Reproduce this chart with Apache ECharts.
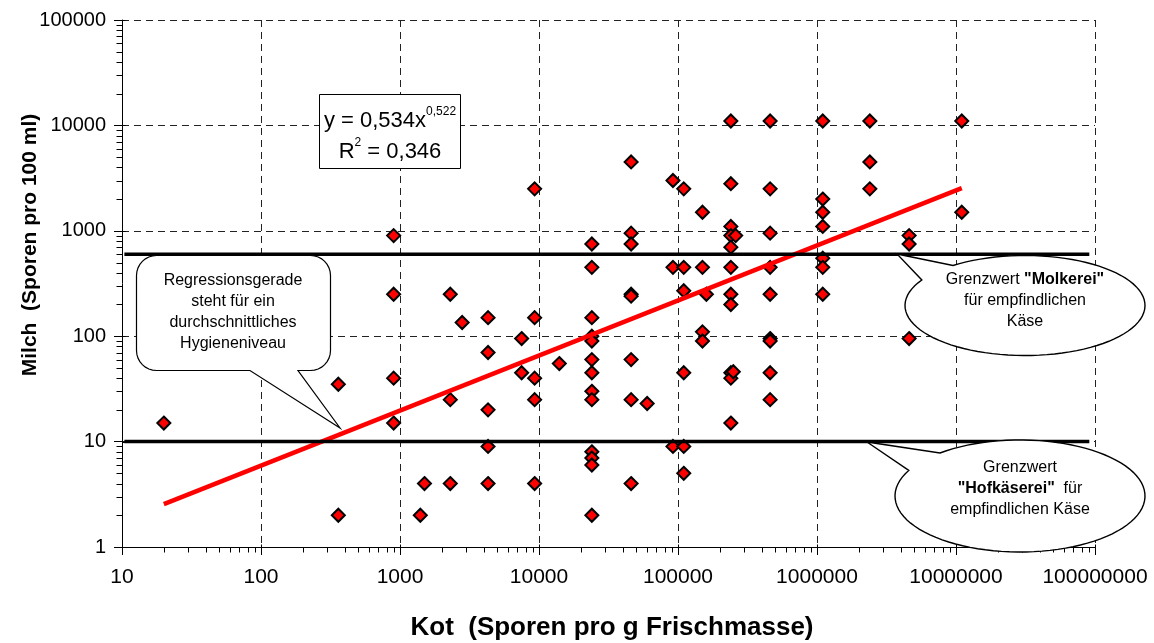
<!DOCTYPE html>
<html><head><meta charset="utf-8">
<script src="https://cdn.jsdelivr.net/npm/echarts@6/dist/echarts.min.js"></script>
<style>html,body{margin:0;padding:0;background:#fff}#c{width:1154px;height:643px}</style>
</head><body><div id="c"></div>
<script>
// ---- data ----
const kotSporen = [
  20,
  360, 360,
  900, 900, 900, 900,
  1400, 1500,
  2300, 2300, 2300,
  2800,
  4300, 4300, 4300, 4300, 4300,
  7500, 7500,
  9300, 9300, 9300, 9300, 9300,
  14000,
  24000, 24000, 24000, 24000, 24000, 24000, 24000, 24000, 24000, 24000, 24000, 24000, 24000,
  46000, 46000, 46000, 46000, 46000, 46000, 46000, 46000,
  60000,
  92000, 92000, 92000,
  110000, 110000, 110000, 110000, 110000, 110000,
  150000, 150000, 150000, 150000,
  160000,
  240000, 240000, 240000, 240000, 240000, 240000, 240000, 240000, 240000, 240000, 240000,
  250000,
  260000,
  460000, 460000, 460000, 460000, 460000, 460000, 460000, 460000, 460000,
  1100000, 1100000, 1100000, 1100000, 1100000, 1100000, 1100000,
  2400000, 2400000, 2400000,
  4600000, 4600000, 4600000,
  11000000, 11000000
];
const milchSporen = [
  15,
  35, 2,
  900, 250, 40, 15,
  2, 4,
  250, 25, 4,
  135,
  150, 70, 20, 9, 4,
  95, 45,
  2500, 150, 40, 25, 4,
  55,
  750, 450, 150, 100, 90, 60, 45, 30, 25, 8, 7, 6, 2,
  4500, 950, 750, 250, 240, 60, 25, 4,
  23,
  3000, 450, 9,
  2500, 450, 270, 45, 9, 5,
  1500, 450, 110, 90,
  250,
  11000, 2800, 1100, 900, 700, 450, 250, 200, 45, 40, 15,
  46,
  900,
  11000, 2500, 950, 450, 250, 95, 90, 45, 25,
  11000, 2000, 1500, 1100, 550, 450, 250,
  11000, 4500, 2500,
  900, 750, 95,
  11000, 1500
];
const xTickLabels = ['10', '100', '1000', '10000', '100000', '1000000', '10000000', '100000000'];
const yTickLabels = ['1', '10', '100', '1000', '10000', '100000'];
const regressionX = [20, 11000000];
const regressionY = [2.55, 2540];
const grenzwertMolkerei = 600;
const grenzwertHofkaeserei = 10;
const grenzLineX = [10.4, 91000000];

const FONT = '"Liberation Sans", Arial, sans-serif';
const scatterData = kotSporen.map((x, i) => [x, milchSporen[i]]);
const regData = regressionX.map((x, i) => [x, regressionY[i]]);
const pickLabel = (list, v) => list.find(t => Math.abs(Math.log10(Number(t)) - Math.log10(v)) < 1e-6) || '';

const chart = echarts.init(document.getElementById('c'), null, {renderer: 'canvas'});
const option = {
  animation: false,
  backgroundColor: '#fff',
  grid: {left: 122, right: 59, top: 20, bottom: 96},
  xAxis: {
    type: 'log', logBase: 10,
    min: Number(xTickLabels[0]), max: Number(xTickLabels[xTickLabels.length - 1]),
    splitNumber: 7,
    axisLine: {show: true, lineStyle: {color: '#000', width: 1}},
    axisTick: {show: true, length: 8, lineStyle: {color: '#000'}},
    axisLabel: {color: '#000', fontFamily: FONT, fontSize: 21, margin: 20,
      formatter: v => pickLabel(xTickLabels, v)},
    splitLine: {show: true, lineStyle: {color: '#222', type: [7, 5], width: 1}}
  },
  yAxis: {
    type: 'log', logBase: 10,
    min: Number(yTickLabels[0]), max: Number(yTickLabels[yTickLabels.length - 1]),
    splitNumber: 5,
    axisLine: {show: true, lineStyle: {color: '#000', width: 1}},
    axisTick: {show: true, length: 8, lineStyle: {color: '#000'}},
    axisLabel: {color: '#000', fontFamily: FONT, fontSize: 20, margin: 16,
      formatter: v => pickLabel(yTickLabels, v)},
    splitLine: {show: true, lineStyle: {color: '#222', type: [7, 5], width: 1}}
  },
  series: [
    {
      type: 'scatter', name: 'Proben', data: scatterData, z: 2,
      symbol: 'diamond', symbolSize: 13,
      itemStyle: {color: '#ff0000', borderColor: '#000', borderWidth: 2, opacity: 1}
    },
    {
      type: 'line', name: 'Regression', data: regData, z: 3,
      showSymbol: false, symbol: 'none',
      lineStyle: {color: '#ff0000', width: 4.5}
    },
    {
      type: 'line', name: 'Molkerei', z: 4, symbol: 'none',
      data: grenzLineX.map(x => [x, grenzwertMolkerei]),
      lineStyle: {color: '#000', width: 3.5}
    },
    {
      type: 'line', name: 'Hofkaeserei', z: 4, symbol: 'none',
      data: grenzLineX.map(x => [x, grenzwertHofkaeserei]),
      lineStyle: {color: '#000', width: 3.5}
    }
  ]
};
chart.setOption(option);

// ---- decorations: minor log ticks, titles and annotations ----
const P = (x, y) => chart.convertToPixel({gridIndex: 0}, [x, y]);
const origin = P(10, 1);
const axY = Math.round(origin[1]) + 0.5;
const axX = Math.round(origin[0]) + 0.5;
const g = [];
for (let e = 1; e < 8; e++) {
  for (let m = 2; m <= 9; m++) {
    const px = Math.round(P(m * Math.pow(10, e), 1)[0]) + 0.5;
    g.push({type: 'line', z: 50, shape: {x1: px, y1: axY, x2: px, y2: axY + 5}, style: {stroke: '#000', lineWidth: 1}});
  }
}
for (let e = 0; e < 5; e++) {
  for (let m = 2; m <= 9; m++) {
    const py = Math.round(P(10, m * Math.pow(10, e))[1]) + 0.5;
    g.push({type: 'line', z: 50, shape: {x1: axX - 6, y1: py, x2: axX, y2: py}, style: {stroke: '#000', lineWidth: 1}});
  }
}
for (let e = 1; e <= 8; e++) {
  const px = Math.round(P(Math.pow(10, e), 1)[0]) + 0.5;
  g.push({type: 'line', z: 50, shape: {x1: px, y1: axY - 3, x2: px, y2: axY}, style: {stroke: '#000', lineWidth: 1}});
}
for (let e = 0; e <= 5; e++) {
  const py = Math.round(P(10, Math.pow(10, e))[1]) + 0.5;
  g.push({type: 'line', z: 50, shape: {x1: axX, y1: py, x2: axX + 3, y2: py}, style: {stroke: '#000', lineWidth: 1}});
}

// axis titles
g.push({type: 'text', z: 60, x: 612, y: 628,
  style: {text: 'Kot  (Sporen pro g Frischmasse)', fill: '#000', font: 'bold 26px ' + FONT,
    align: 'center', verticalAlign: 'middle'}});
g.push({type: 'text', z: 60, x: 30, y: 245, rotation: Math.PI / 2,
  style: {text: 'Milch  (Sporen pro 100 ml)', fill: '#000', font: 'bold 21px ' + FONT,
    align: 'center', verticalAlign: 'middle'}});

const richStd = {
  n: {fontFamily: FONT, fontSize: 16, lineHeight: 21, fill: '#000'},
  b: {fontFamily: FONT, fontSize: 16, lineHeight: 21, fontWeight: 'bold', fill: '#000'}
};
const txt = (x, y, text) => ({
  type: 'text', z: 120, x: x, y: y,
  style: {text: text, fill: '#000', fontFamily: FONT, fontSize: 16,
    align: 'center', verticalAlign: 'middle', lineHeight: 21, rich: richStd}
});

// Equation box
g.push({type: 'rect', z: 110, shape: {x: 319.5, y: 94.5, width: 141, height: 74},
  style: {fill: '#fff', stroke: '#000', lineWidth: 1}});
const eqRich = {
  a: {fontFamily: FONT, fontSize: 22, fill: '#000', lineHeight: 26, verticalAlign: 'bottom'},
  s: {fontFamily: FONT, fontSize: 12, fill: '#000', lineHeight: 26, verticalAlign: 'top'}
};
g.push({type: 'text', z: 120, x: 390, y: 119,
  style: {text: '{a|y = 0,534x}{s|0,522}', align: 'center', verticalAlign: 'middle', rich: eqRich}});
g.push({type: 'text', z: 120, x: 390, y: 150,
  style: {text: '{a|R}{s|2}{a| = 0,346}', align: 'center', verticalAlign: 'middle', rich: eqRich}});

// Rounded-rect callout (Regressionsgerade) as one polygon
const roundRectCallout = (x0, y0, x1, y1, r, baseL, baseR, tip) => {
  const pts = [];
  const arc = (cx, cy, a0, a1) => {
    for (let i = 0; i <= 8; i++) {
      const a = a0 + (a1 - a0) * i / 8;
      pts.push([cx + r * Math.cos(a), cy + r * Math.sin(a)]);
    }
  };
  arc(x0 + r, y0 + r, Math.PI, 1.5 * Math.PI);
  arc(x1 - r, y0 + r, 1.5 * Math.PI, 2 * Math.PI);
  arc(x1 - r, y1 - r, 0, 0.5 * Math.PI);
  pts.push([baseR, y1], tip, [baseL, y1]);
  arc(x0 + r, y1 - r, 0.5 * Math.PI, Math.PI);
  return pts;
};
g.push({type: 'polygon', z: 110,
  shape: {points: roundRectCallout(136.5, 255.5, 330.5, 370.5, 20, 250, 298, [340, 428])},
  style: {fill: '#fff', stroke: '#000', lineWidth: 1.2}});
g.push(txt(233, 312.5, '{n|Regressionsgerade}\n{n|steht für ein}\n{n|durchschnittliches}\n{n|Hygieneniveau}'));

// Ellipse callouts as one polygon each
const ellipseCallout = (cx, cy, rx, ry, a, tip, b) => {
  const ta = Math.atan2((a[1] - cy) / ry, (a[0] - cx) / rx);
  let tb = Math.atan2((b[1] - cy) / ry, (b[0] - cx) / rx);
  while (tb <= ta) tb += 2 * Math.PI;
  const pts = [];
  const n = 90;
  for (let i = 0; i <= n; i++) {
    const t = ta + (tb - ta) * i / n;
    pts.push([cx + rx * Math.cos(t), cy + ry * Math.sin(t)]);
  }
  pts.push(tip);
  return pts;
};
g.push({type: 'polygon', z: 110,
  shape: {points: ellipseCallout(1025, 305.5, 120, 50, [953, 265.5], [897, 254], [922, 280])},
  style: {fill: '#fff', stroke: '#000', lineWidth: 1.4}});
g.push(txt(1025, 301, '{n|Grenzwert }{b|"Molkerei"}\n{n|für empfindlichen}\n{n|Käse}'));

g.push({type: 'polygon', z: 110,
  shape: {points: ellipseCallout(1020, 496, 125, 56, [940, 453], [867, 442], [909, 470.5])},
  style: {fill: '#fff', stroke: '#000', lineWidth: 1.4}});
g.push(txt(1020, 489, '{n|Grenzwert}\n{b|"Hofkäserei"}{n|  für}\n{n|empfindlichen Käse}'));

chart.setOption({graphic: {elements: g}});
</script>
</body></html>
